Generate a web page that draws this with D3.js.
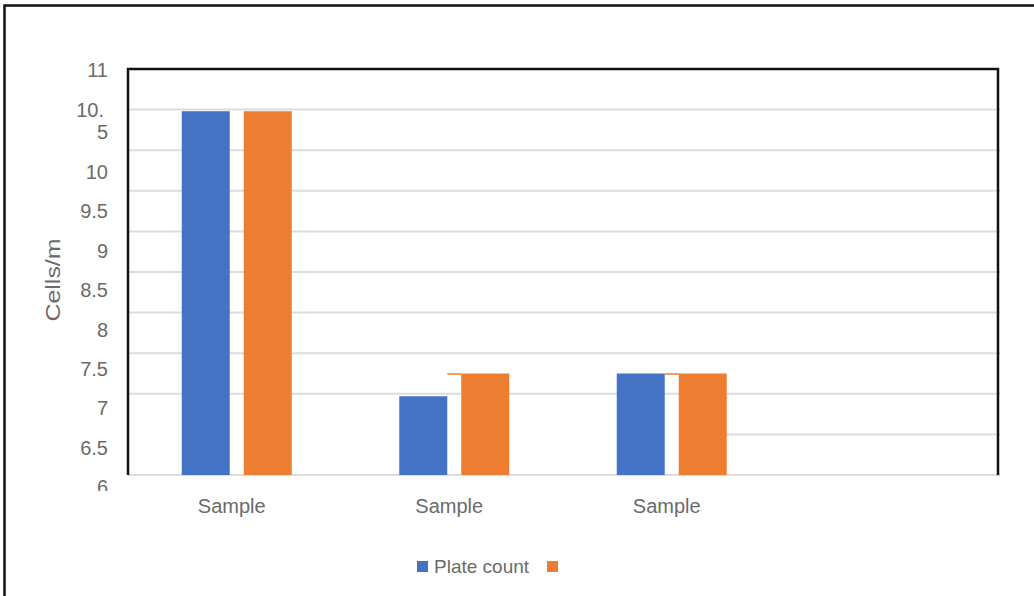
<!DOCTYPE html>
<html>
<head>
<meta charset="utf-8">
<script src="https://cdn.jsdelivr.net/npm/d3@7"></script>
<style>
	body { margin: 0; background: #fff; }
	svg { display: block; font-family: 'Liberation Sans', Arial, sans-serif; }
</style>
</head>
<body>
<svg width="1034" height="596"></svg>
<script>
			// data
			var categories = ['Sample', 'Sample', 'Sample', ''];
			var seriesNames = ['Plate count', ''];
			var plateCount = [10.48, 6.97, 7.25];
			var secondSeries = [10.48, 7.25, 7.25];
			var yTicks = [6, 6.5, 7, 7.5, 8, 8.5, 9, 9.5, 10, 10.5, 11];
			var yTickLabels = ['6', '6.5', '7', '7.5', '8', '8.5', '9', '9.5', '10', '10.|5', '11'];
			var colors = ['#4472C4', '#ED7D31'];

			// define functions
			function draw_chart(){
				var svg = d3.select('svg');
				var left = 128, right = 998, top = 69, bottom = 475;
				var textColor = '#6a6a6a';

				var y = d3.scaleLinear()
				.domain([6, 11])
				.range([bottom, top]);
				// tick labels in the picture sit lower than their gridlines
				var yLab = d3.scaleLinear()
				.domain([6, 10, 10.5, 11])
				.range([487, 172, 121, 70]);
				var x0 = d3.scaleBand()
				.domain(d3.range(categories.length))
				.range([left, right])
				.paddingInner(0.4943)
				.paddingOuter(0.2471);
				var x1 = d3.scaleBand()
				.domain(d3.range(seriesNames.length))
				.range([0, x0.bandwidth()])
				.paddingInner(0.2258);

				// outer frame
				svg.append('path')
				.attr('d', 'M4.5,596V5.5H1034')
				.attr('fill', 'none')
				.attr('stroke', '#111')
				.attr('stroke-width', 2.5);

				// gridlines
				var rows = [plateCount, secondSeries];
				var lastEnd = x0(plateCount.length - 1) + x1(1) + x1.bandwidth();
				svg.append('g')
				.selectAll('line')
				.data(yTicks.filter(function(d){ return d < 11; }))
				.enter()
				.append('line')
				.attr('x1', function(d){ return d == 6.5 ? lastEnd : left; })
				.attr('x2', right + 2)
				.attr('y1', function(d){ return y(d); })
				.attr('y2', function(d){ return y(d); })
				.attr('stroke', '#dcdcdc')
				.attr('stroke-width', 2);

				// bars
				var groups = svg.append('g')
				.selectAll('g')
				.data(plateCount)
				.enter()
				.append('g')
				.attr('transform', function(d, i){ return 'translate(' + x0(i) + ',0)'; });
				groups.selectAll('rect')
				.data(function(d, i){ return rows.map(function(r){ return r[i]; }); })
				.enter()
				.append('rect')
				.attr('x', function(d, j){ return x1(j); })
				.attr('width', x1.bandwidth())
				.attr('y', function(d){ return y(d); })
				.attr('height', function(d){ return bottom - y(d); })
				.attr('fill', function(d, j){ return colors[j]; });
				// thin orange top edge that runs into the gap
				groups.filter(function(d, i){ return i > 0; })
				.append('line')
				.attr('x1', x1(0) + x1.bandwidth())
				.attr('x2', x1(1))
				.attr('y1', function(d, i){ return y(secondSeries[i + 1]) + 0.5; })
				.attr('y2', function(d, i){ return y(secondSeries[i + 1]) + 0.5; })
				.attr('stroke', colors[1])
				.attr('stroke-width', 1.5);

				// plot frame (left, top, right)
				svg.append('path')
				.attr('d', 'M' + left + ',' + bottom + 'V' + top + 'H' + right + 'V' + bottom)
				.attr('fill', 'none')
				.attr('stroke', '#111')
				.attr('stroke-width', 2.5);

				// y tick labels
				svg.append('clipPath')
				.attr('id', 'ylabclip')
				.append('rect')
				.attr('x', 0).attr('y', 0)
				.attr('width', left).attr('height', 491);
				var ylabels = svg.append('g')
				.attr('clip-path', 'url(#ylabclip)')
				.selectAll('text')
				.data(yTicks)
				.enter()
				.append('text')
				.attr('text-anchor', 'end')
				.attr('fill', textColor)
				.attr('font-size', 20)
				.attr('y', function(d){ return yLab(d); });
				ylabels.each(function(d, i){
					var parts = yTickLabels[i].split('|');
					var t = d3.select(this);
					parts.forEach(function(p, k){
						t.append('tspan')
						.attr('x', k == 0 && parts.length > 1 ? 104 : 108)
						.attr('dy', k == 0 ? (0.35 - (parts.length - 1) * 0.55) + 'em' : '1.1em')
						.text(p);
					});
				});

				// y title
				svg.append('text')
				.attr('transform', 'translate(60,280) rotate(-90)')
				.attr('text-anchor', 'middle')
				.attr('fill', textColor)
				.attr('font-size', 21)
				.attr('textLength', 83)
				.attr('lengthAdjust', 'spacingAndGlyphs')
				.text('Cells/m');

				// x labels
				svg.append('g')
				.selectAll('text')
				.data(categories)
				.enter()
				.append('text')
				.attr('text-anchor', 'middle')
				.attr('fill', textColor)
				.attr('font-size', 20)
				.attr('x', function(d, i){ return x0(i) + x0.bandwidth() / 2 - 5; })
				.attr('y', 513)
				.text(function(d){ return d; });

				// legend
				var legend = svg.append('g')
				.attr('transform', 'translate(417,561)');
				var lx = [0, 130];
				var items = legend.selectAll('g')
				.data(seriesNames)
				.enter()
				.append('g')
				.attr('transform', function(d, i){ return 'translate(' + lx[i] + ',0)'; });
				items.append('rect')
				.attr('width', 11).attr('height', 11)
				.attr('fill', function(d, i){ return colors[i]; });
				items.append('text')
				.attr('x', 17)
				.attr('y', 12)
				.attr('fill', textColor)
				.attr('font-size', 19)
				.text(function(d){ return d; });
			}

			// running parts
			draw_chart();
</script>
</body>
</html>
